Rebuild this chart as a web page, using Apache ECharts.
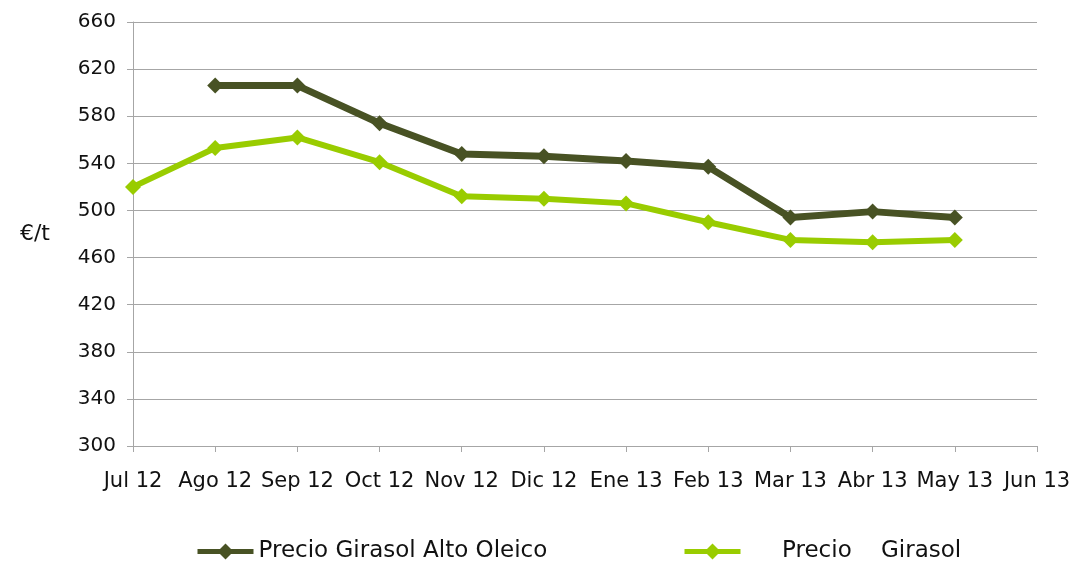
<!DOCTYPE html>
<html>
<head>
<meta charset="utf-8">
<script src="https://cdn.jsdelivr.net/npm/echarts@6/dist/echarts.min.js"></script>
<style>
    html, body { margin: 0; padding: 0; background: #fff; }
    #chart { width: 1074px; height: 562px; }
</style>
</head>
<body>
<div id="chart"></div>
<script>
// Monthly prices (€/t)
const months = ["Jul 12", "Ago 12", "Sep 12", "Oct 12", "Nov 12", "Dic 12", "Ene 13", "Feb 13", "Mar 13", "Abr 13", "May 13", "Jun 13"];
const altoOleico = [null, 606, 606, 574, 548, 546, 542, 537, 494, 499, 494, null];
const girasol = [520, 553, 562, 541, 512, 510, 506, 490, 475, 473, 475, null];
const seriesNames = ["Precio Girasol Alto Oleico", "     Precio    Girasol"];

const font = "'DejaVu Sans', sans-serif";
const darkGreen = "#485224";
const lightGreen = "#99cc00";

const legendBase = {
    top: 535,
    itemWidth: 56,
    itemHeight: 20,
    lineStyle: { width: 5 },
    textStyle: { fontSize: 23, color: "#111", fontFamily: font }
};

const chart = echarts.init(document.getElementById("chart"));
chart.setOption({
    backgroundColor: "#fff",
    animation: false,
    textStyle: { fontFamily: font },
    grid: { left: 133, right: 37, top: 22, bottom: 116 },
    legend: [
        Object.assign({}, legendBase, { left: 190, data: [seriesNames[0]] }),
        Object.assign({}, legendBase, { left: 677, data: [seriesNames[1]] })
    ],
    xAxis: {
        type: "category",
        data: months,
        boundaryGap: false,
        axisLine: { lineStyle: { color: "#a6a6a6", width: 1 } },
        axisTick: { show: true, length: 6, lineStyle: { color: "#a6a6a6" } },
        axisLabel: { color: "#111", fontSize: 21, margin: 25, interval: 0 },
        splitLine: { show: false }
    },
    yAxis: {
        type: "value",
        min: 300,
        max: 660,
        interval: 40,
        name: "€/t",
        nameLocation: "middle",
        nameRotate: 0,
        nameGap: 83,
        nameTextStyle: { fontSize: 22, color: "#111" },
        axisLine: { show: true, lineStyle: { color: "#a6a6a6", width: 1 } },
        axisTick: { show: true, length: 6, lineStyle: { color: "#a6a6a6" } },
        axisLabel: { color: "#111", fontSize: 20, margin: 17 },
        splitLine: { lineStyle: { color: "#a6a6a6", width: 1 } }
    },
    series: [
        {
            name: seriesNames[0],
            type: "line",
            data: altoOleico,
            symbol: "diamond",
            symbolSize: 16,
            lineStyle: { color: darkGreen, width: 7 },
            itemStyle: { color: darkGreen }
        },
        {
            name: seriesNames[1],
            type: "line",
            data: girasol,
            symbol: "diamond",
            symbolSize: 16,
            lineStyle: { color: lightGreen, width: 6 },
            itemStyle: { color: lightGreen }
        }
    ]
});
</script>
</body>
</html>
